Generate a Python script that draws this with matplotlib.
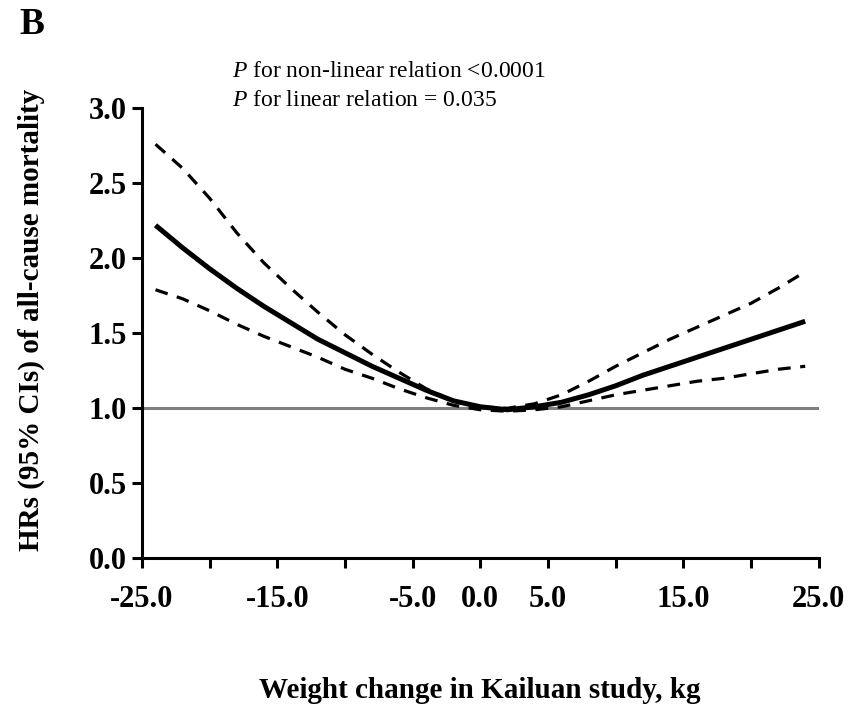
import matplotlib
matplotlib.use("Agg")
from matplotlib import pyplot as plt

# weight change (kg) and HRs
weight = [-24, -22, -20, -18, -16, -14, -12, -10, -8, -6, -4, -2, 0,
          2, 4, 6, 8, 10, 12, 14, 16, 18, 20, 22, 24]
hr = [2.22, 2.07, 1.93, 1.80, 1.68, 1.57, 1.46, 1.37, 1.28, 1.20, 1.12, 1.05, 1.01,
      0.99, 1.01, 1.04, 1.09, 1.15, 1.22, 1.28, 1.34, 1.40, 1.46, 1.52, 1.58]
ci_upper = [2.76, 2.60, 2.40, 2.17, 1.97, 1.80, 1.64, 1.49, 1.36, 1.24, 1.13, 1.05, 1.01,
            1.00, 1.03, 1.09, 1.18, 1.28, 1.37, 1.46, 1.54, 1.62, 1.70, 1.80, 1.91]
ci_lower = [1.79, 1.73, 1.65, 1.56, 1.48, 1.41, 1.34, 1.26, 1.20, 1.13, 1.07, 1.02, 0.99,
            0.98, 0.99, 1.01, 1.05, 1.09, 1.12, 1.15, 1.18, 1.20, 1.23, 1.26, 1.28]

x_ticks = [-25, -20, -15, -10, -5, 0, 5, 10, 15, 20, 25]
x_labels = ["-25.0", "", "-15.0", "", "-5.0", "0.0", "5.0", "", "15.0", "", "25.0"]
y_ticks = [0.0, 0.5, 1.0, 1.5, 2.0, 2.5, 3.0]

plt.rcParams["font.family"] = ["Liberation Serif", "DejaVu Serif"]
plt.rcParams["mathtext.fontset"] = "custom"
plt.rcParams["mathtext.rm"] = "Liberation Serif"
plt.rcParams["mathtext.it"] = "Liberation Serif:italic"

fig = plt.figure(figsize=(8.61, 7.10), dpi=100)
ax = fig.add_axes([0.1649, 0.2137, 0.786, 0.6338])

# reference line at HR = 1
ax.plot([-25, 25], [1, 1], color="#808080", lw=2.2, zorder=1)
ax.plot(weight, hr, color="black", lw=3.6, solid_capstyle="butt",
        solid_joinstyle="round", zorder=3)
ax.plot(weight, ci_upper, color="black", lw=2.3, dashes=(4, 3), zorder=2)
ax.plot(weight, ci_lower, color="black", lw=2.3, dashes=(4, 3), zorder=2)

ax.set_xlim(-25, 25)
ax.set_ylim(0, 3.0)
ax.set_xticks(x_ticks)
ax.set_xticklabels(x_labels)
ax.set_yticks(y_ticks)
ax.set_yticklabels([f"{v:.1f}" for v in y_ticks])

for side in ["top", "right"]:
    ax.spines[side].set_visible(False)
for side in ["left", "bottom"]:
    ax.spines[side].set_linewidth(2.2)
ax.tick_params(direction="out", length=7, width=2.2, labelsize=22)
ax.tick_params(axis="x", pad=12)
ax.tick_params(axis="y", pad=4)
for lab in ax.get_xticklabels() + ax.get_yticklabels():
    lab.set_fontweight("bold")

fig.text(0.036, 0.549, "HRs (95% CIs) of all-cause mortality", fontsize=21,
         fontweight="bold", rotation=90, ha="center", va="center")
fig.text(0.557, 0.028, "Weight change in Kailuan study, kg", fontsize=21,
         fontweight="bold", ha="center", va="center")

fig.text(0.023, 0.965, "B", fontsize=27, fontweight="bold", ha="left", va="center")
fig.text(0.270, 0.899, r"$\it{P}$ for non-linear relation <0.0001", fontsize=17,
         ha="left", va="center")
fig.text(0.270, 0.858, r"$\it{P}$ for linear relation = 0.035", fontsize=17,
         ha="left", va="center")

fig.savefig("out.png", dpi=100)
plt.close(fig)
